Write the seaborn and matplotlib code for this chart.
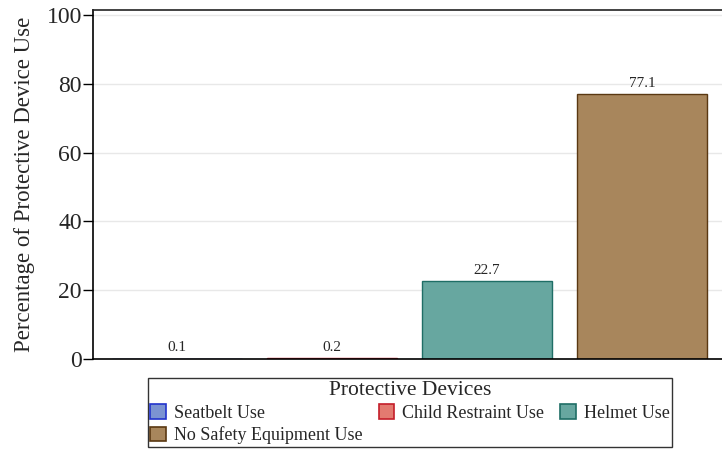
import matplotlib
matplotlib.use("Agg")
import matplotlib.pyplot as plt
from matplotlib.patches import Patch
import seaborn as sns
import pandas as pd

devices = ["Seatbelt Use", "Child Restraint Use", "Helmet Use", "No Safety Equipment Use"]
percent = [0.1, 0.2, 22.7, 77.1]
fills = ["#7b93d2", "#e37a70", "#67a7a0", "#a8865c"]
edges = ["#2233cc", "#c41e2a", "#1f6e66", "#5a3812"]

df = pd.DataFrame({"device": devices, "percent": percent})

sns.set_style("white")
plt.rcParams["font.family"] = ["Liberation Serif", "DejaVu Serif"]

fig = plt.figure(figsize=(7.22, 4.51), dpi=100)
ax = fig.add_axes([93 / 722, 1 - 359 / 451, 1 - 93 / 722, 349 / 451])

sns.barplot(data=df, x="device", y="percent", hue="device", palette=fills,
            order=devices, hue_order=devices, width=0.84, saturation=1,
            legend=False, ax=ax)

for cont, ec in zip(ax.containers, edges):
    for bar in cont:
        bar.set_edgecolor(ec)
        bar.set_linewidth(1.0)
    ax.bar_label(cont, fmt="%.1f", fontsize=11, padding=3)

ax.set_xlim(-0.542, 3.516)
ax.set_ylim(0, 101.45)
ax.set_yticks([0, 20, 40, 60, 80, 100])
ax.grid(axis="y", color="#e8e8e8", linewidth=1)
ax.set_axisbelow(True)
ax.set_xticks([])
ax.set_xlabel("")
ax.set_ylabel("Percentage of Protective Device Use", fontsize=16.5, labelpad=8)
ax.tick_params(axis="y", left=True, length=7, width=1, labelsize=17, pad=1, color="black")
for side in ["left", "bottom", "top"]:
    ax.spines[side].set_color("black")
    ax.spines[side].set_linewidth(1.2)
ax.spines["right"].set_visible(False)
ax.spines["top"].set_color("#222222")

handles = [Patch(facecolor=f, edgecolor=e, linewidth=1.2) for f, e in zip(fills, edges)]
order = [0, 3, 1, 2]
leg = fig.legend([handles[i] for i in order], [devices[i] for i in order],
                 title="Protective Devices", loc="upper center",
                 bbox_to_anchor=(410 / 722, 1 - 378 / 451), ncol=3,
                 fontsize=13, title_fontsize=15.5, frameon=True, fancybox=False,
                 edgecolor="black", handlelength=0.85, handleheight=0.85,
                 handletextpad=0.45, columnspacing=0.9, labelspacing=0.25,
                 borderpad=0.15, borderaxespad=0)
leg.get_frame().set_linewidth(1.0)

fig.savefig("out.png", dpi=100)
